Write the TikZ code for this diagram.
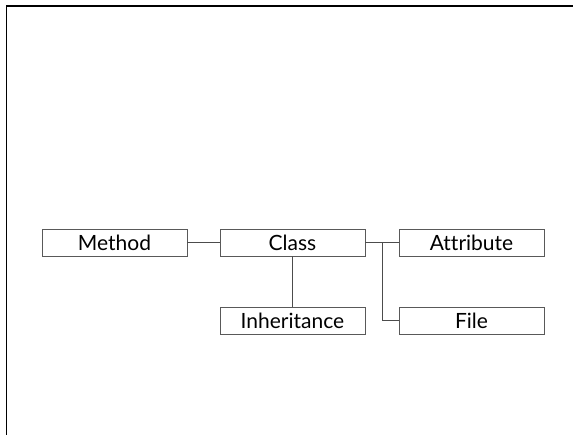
\documentclass[tikz,border=0pt]{standalone}
\usepackage{fontspec}
\setmainfont{Lato}[Ligatures=NoCommon]
\begin{document}
\begin{tikzpicture}[x=1pt,y=1pt,
  entity/.style={draw=black!65, line width=0.9pt, fill=white, minimum width=145pt,
    minimum height=27pt, inner sep=0pt, font=\fontsize{21}{23}\selectfont},
  link/.style={draw=black!70, line width=0.9pt}]
  \useasboundingbox (0,0) rectangle (573,434);
  % page frame, open at right and bottom
  \draw[line width=1.6pt] (6.5,-5) -- (6.5,428) -- (580,428);
  % classes
  \node[entity] (method) at (114.5,191.5) {Method};
  \node[entity] (class) at (292.5,191.5) {Class};
  \node[entity] (attr) at (471.5,191.5) {Attribute};
  \node[entity] (inh) at (292.5,113.5) {Inheritance};
  \node[entity] (file) at (471.5,113.5) {File};
  % relations
  \coordinate (bus) at (382,191.5);
  \draw[link] (method.east) -- (class.west);
  \draw[link] (class.south) -- (inh.north);
  \draw[link] (class.east) -- (attr.west);
  \draw[link] (bus) |- (file.west);
\end{tikzpicture}
\end{document}
